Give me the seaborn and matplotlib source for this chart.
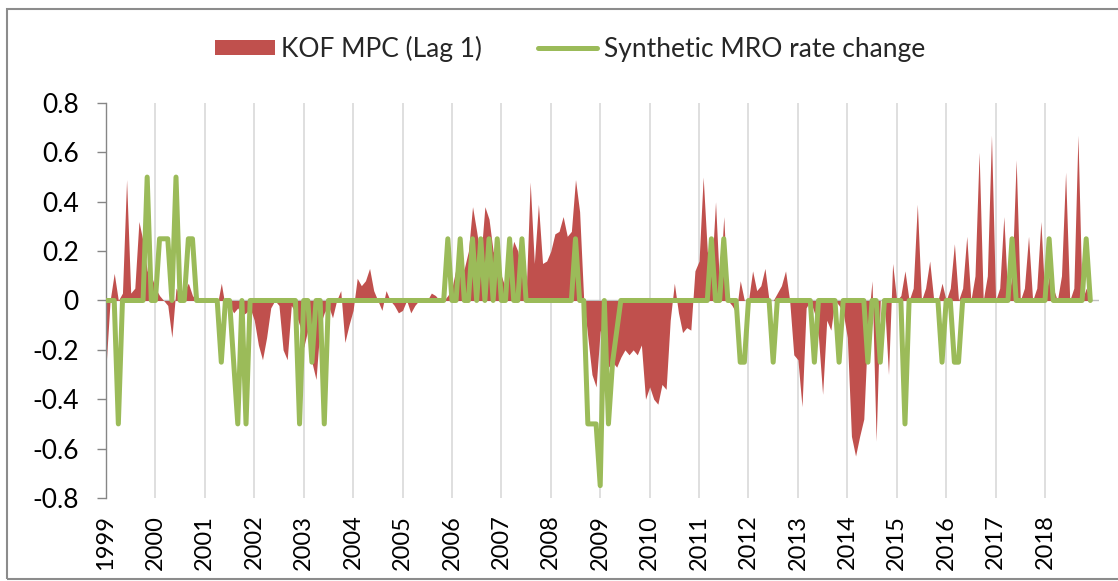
import numpy as np
import pandas as pd
import matplotlib
matplotlib.use("Agg")
import matplotlib.pyplot as plt
from matplotlib.patches import Patch, Rectangle
from matplotlib.lines import Line2D
import seaborn as sns

# monthly values, Jan 1999 - Dec 2018 (one row per year)
kof_mpc = [
    -0.27, 0.00, 0.11, 0.00, 0.03, 0.49, 0.03, 0.05, 0.32, 0.24, 0.12, 0.10,   # 1999
    0.05, 0.02, 0.00, -0.02, -0.15, 0.05, 0.02, 0.04, 0.07, 0.02, 0.00, 0.00,  # 2000
    0.00, 0.00, 0.00, -0.02, 0.07, -0.03, -0.02, -0.05, -0.03, -0.06, -0.05, -0.03,  # 2001
    -0.08, -0.18, -0.24, -0.15, -0.03, 0.00, -0.02, -0.20, -0.24, -0.02, -0.05, -0.10,  # 2002
    -0.19, -0.12, -0.25, -0.32, -0.10, -0.05, -0.02, -0.07, 0.00, 0.04, -0.17, -0.10,  # 2003
    -0.04, 0.09, 0.06, 0.08, 0.13, 0.04, 0.00, -0.04, 0.04, 0.00, -0.02, -0.05,  # 2004
    -0.04, 0.00, -0.05, -0.02, 0.00, 0.00, 0.00, 0.03, 0.02, 0.00, 0.00, 0.02,  # 2005
    0.05, 0.13, 0.10, 0.13, 0.20, 0.38, 0.28, 0.17, 0.38, 0.33, 0.20, 0.15,  # 2006
    0.10, 0.05, 0.15, 0.24, 0.20, 0.10, 0.02, 0.48, 0.15, 0.39, 0.15, 0.16,  # 2007
    0.20, 0.27, 0.28, 0.34, 0.26, 0.28, 0.49, 0.36, 0.00, -0.15, -0.30, -0.35,  # 2008
    -0.12, -0.20, -0.27, -0.25, -0.27, -0.23, -0.20, -0.22, -0.20, -0.22, -0.18, -0.40,  # 2009
    -0.35, -0.40, -0.42, -0.34, -0.36, -0.08, 0.07, -0.05, -0.13, -0.11, -0.12, 0.12,  # 2010
    0.16, 0.50, 0.20, 0.10, 0.40, 0.05, 0.34, 0.00, -0.02, -0.05, 0.08, 0.00,  # 2011
    0.00, 0.12, 0.04, 0.06, 0.13, 0.00, 0.00, 0.03, 0.06, 0.12, 0.00, -0.22,  # 2012
    -0.24, -0.43, -0.03, 0.00, -0.05, -0.15, -0.38, -0.08, -0.12, 0.00, -0.02, -0.05,  # 2013
    -0.15, -0.55, -0.63, -0.55, -0.48, -0.10, 0.08, -0.57, 0.00, 0.00, -0.30, 0.15,  # 2014
    0.00, 0.02, 0.12, 0.00, 0.05, 0.39, 0.00, 0.05, 0.16, 0.00, 0.00, 0.07,  # 2015
    0.00, 0.05, 0.23, 0.00, 0.05, 0.26, 0.00, 0.10, 0.60, 0.00, 0.10, 0.67,  # 2016
    0.00, 0.05, 0.34, 0.00, 0.10, 0.57, 0.00, 0.05, 0.26, 0.00, 0.05, 0.32,  # 2017
    0.00, 0.10, 0.05, 0.00, 0.10, 0.52, 0.00, 0.05, 0.67, 0.00, 0.05, 0.00,  # 2018
]

mro_change = [
    0, 0, 0, -0.5, 0, 0, 0, 0, 0, 0, 0.5, 0,            # 1999
    0, 0.25, 0.25, 0.25, 0, 0.5, 0, 0, 0.25, 0.25, 0, 0,  # 2000
    0, 0, 0, 0, -0.25, 0, 0, -0.25, -0.5, 0, -0.5, 0,   # 2001
    0, 0, 0, 0, 0, 0, 0, 0, 0, 0, 0, -0.5,              # 2002
    0, 0, -0.25, 0, 0, -0.5, 0, 0, 0, 0, 0, 0,          # 2003
    0, 0, 0, 0, 0, 0, 0, 0, 0, 0, 0, 0,                 # 2004
    0, 0, 0, 0, 0, 0, 0, 0, 0, 0, 0, 0.25,              # 2005
    0, 0, 0.25, 0, 0, 0.25, 0, 0.25, 0, 0.25, 0, 0.25,  # 2006
    0, 0, 0.25, 0, 0, 0.25, 0, 0, 0, 0, 0, 0,           # 2007
    0, 0, 0, 0, 0, 0, 0.25, 0, 0, -0.5, -0.5, -0.5,     # 2008
    -0.75, 0, -0.5, -0.25, -0.125, 0, 0, 0, 0, 0, 0, 0,  # 2009
    0, 0, 0, 0, 0, 0, 0, 0, 0, 0, 0, 0,                 # 2010
    0, 0, 0, 0.25, 0, 0, 0.25, 0, 0, 0, -0.25, -0.25,   # 2011
    0, 0, 0, 0, 0, 0, -0.25, 0, 0, 0, 0, 0,             # 2012
    0, 0, 0, 0, -0.25, 0, 0, 0, 0, 0, -0.25, 0,         # 2013
    0, 0, 0, 0, 0, -0.25, 0, 0, -0.25, 0, 0, 0,         # 2014
    0, 0, -0.5, 0, 0, 0, 0, 0, 0, 0, 0, -0.25,          # 2015
    0, 0, -0.25, -0.25, 0, 0, 0, 0, 0, 0, 0, 0,         # 2016
    0, 0, 0, 0, 0.25, 0, 0, 0, 0, 0, 0, 0,              # 2017
    0, 0.25, 0, 0, 0, 0, 0, 0, 0, 0, 0.25, 0,           # 2018
]

years = [str(y) for y in range(1999, 2019)]
y_ticks = [-0.8, -0.6, -0.4, -0.2, 0, 0.2, 0.4, 0.6, 0.8]
y_labels = ['-0.8', '-0.6', '-0.4', '-0.2', '0', '0.2', '0.4', '0.6', '0.8']

red = '#C0504D'
green = '#9BBB59'

df = pd.DataFrame({
    'month': np.arange(len(kof_mpc)),
    'kof': kof_mpc,
    'mro': mro_change,
})

sns.set_theme(style='white')
plt.rcParams['font.family'] = ['Lato', 'DejaVu Sans']

fig = plt.figure(figsize=(11.18, 5.81), dpi=100)
ax = fig.add_axes([0.0948, 0.1429, 0.8878, 0.6798])

# red area for KOF MPC, green line for the rate changes
ax.fill_between(df['month'], 0, df['kof'], color=red, lw=0, zorder=2)
sns.lineplot(data=df, x='month', y='mro', color=green, lw=3.6,
             ax=ax, zorder=3, legend=False)
ax.axhline(0, color='#bfbfbf', lw=1, zorder=1.5)

ax.set_xlim(0, 241)
ax.set_ylim(-0.8, 0.8)
ax.set_xticks(np.arange(len(years)) * 12)
ax.set_xticklabels(years, rotation=90, fontsize=17)
ax.set_yticks(y_ticks)
ax.set_yticklabels(y_labels, fontsize=19)
ax.set_xlabel('')
ax.set_ylabel('')

ax.grid(axis='x', color='#d9d9d9', lw=1.2, zorder=0)
ax.grid(axis='y', visible=False)
for s in ['top', 'right', 'bottom']:
    ax.spines[s].set_visible(False)
ax.spines['left'].set_color('#868686')
ax.spines['left'].set_linewidth(1)
ax.tick_params(axis='y', length=6.5, width=1, color='#868686', pad=13,
               direction='out', left=True, labelcolor='black')
ax.tick_params(axis='x', length=0, pad=12, labelcolor='black')

handles = [Patch(facecolor=red, edgecolor='none', label='KOF MPC (Lag 1)'),
           Line2D([0], [0], color=green, lw=3.6, label='Synthetic MRO rate change')]
fig.legend(handles=handles, loc='center', bbox_to_anchor=(0.51, 0.916), ncol=2,
           frameon=False, fontsize=19, handlelength=2.25, handleheight=0.55,
           handletextpad=0.25, columnspacing=2.1)

# outer chart border
fig.add_artist(Rectangle((7 / 1118, 2 / 581), 1.2, 570 / 581, transform=fig.transFigure,
                         fill=False, ec='#8c8c8c', lw=1.5))

fig.savefig('out.png', dpi=100)
